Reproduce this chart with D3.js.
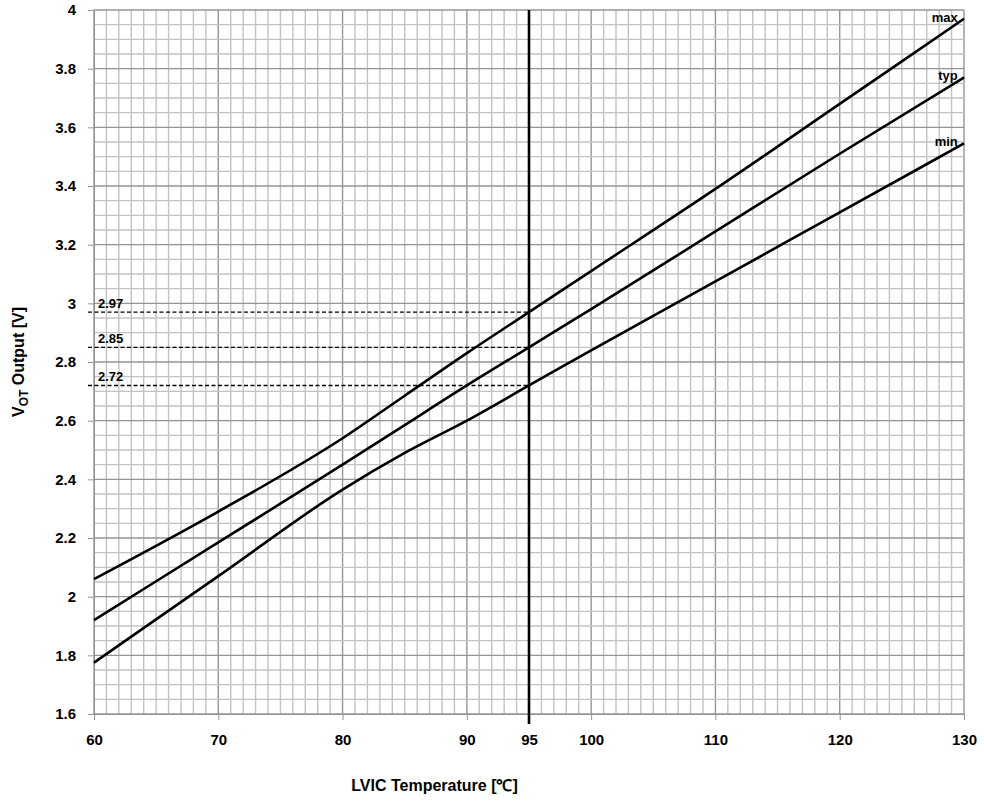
<!DOCTYPE html>
<html>
<head>
<meta charset="utf-8">
<script src="https://cdn.jsdelivr.net/npm/d3@7"></script>
<style>
  body { margin: 0; background: #fff; }
  text { font-family: "Liberation Sans", Arial, sans-serif; font-weight: bold; fill: #000; }
</style>
</head>
<body>
<div id="graph-area"></div>
<script>
// temperatures
const TEMPS = [60, 70, 80, 85, 90, 95, 100, 110, 120, 130]
const MAX_V = [2.06, 2.29, 2.54, 2.685, 2.83, 2.97, 3.11, 3.39, 3.68, 3.97]
const TYP_V = [1.92, 2.185, 2.45, 2.585, 2.72, 2.85, 2.98, 3.245, 3.51, 3.77]
const MIN_V = [1.775, 2.07, 2.365, 2.49, 2.60, 2.72, 2.84, 3.075, 3.31, 3.545]
const X_TICKS = [60, 70, 80, 90, 95, 100, 110, 120, 130]
const Y_TICKS = [1.6, 1.8, 2, 2.2, 2.4, 2.6, 2.8, 3, 3.2, 3.4, 3.6, 3.8, 4]
const MARKERS = [2.97, 2.85, 2.72]
const MARK_T = 95

const series = [
  { name: 'max', values: MAX_V },
  { name: 'typ', values: TYP_V },
  { name: 'min', values: MIN_V }
]

// set the dimensions and margins of the graph
var margin = { top: 10, right: 20, bottom: 87, left: 94 }
var width = 984 - margin.left - margin.right
var height = 801 - margin.top - margin.bottom

var svg = d3.select('#graph-area')
  .append('svg')
  .attr('width', 984)
  .attr('height', 801)

var container = svg.append('g')
  .attr('transform', 'translate(' + margin.left + ',' + margin.top + ')')

var xScale = d3.scaleLinear().domain([60, 130]).range([0, width])
var yScale = d3.scaleLinear().domain([1.6, 4]).range([height, 0])

// grid: every 1 degree and every 0.05 V, darker on major steps
var grid = container.append('g')
grid.selectAll('.vgrid')
  .data(d3.range(60, 131, 1))
  .enter().append('line')
  .attr('x1', d => xScale(d)).attr('x2', d => xScale(d))
  .attr('y1', 0).attr('y2', height)
  .attr('stroke', d => d % 10 === 0 ? '#959595' : '#c2c2c2')
  .attr('stroke-width', 1.4)
grid.selectAll('.hgrid')
  .data(d3.range(0, 49, 1).map(i => 1.6 + i * 0.05))
  .enter().append('line')
  .attr('x1', 0).attr('x2', width)
  .attr('y1', d => yScale(d)).attr('y2', d => yScale(d))
  .attr('stroke', (d, i) => i % 4 === 0 ? '#959595' : '#c2c2c2')
  .attr('stroke-width', 1.4)

// y axis
var yAxis = container.append('g')
  .call(d3.axisLeft(yScale).tickValues(Y_TICKS).tickSize(6).tickPadding(12).tickFormat(d3.format('')))
yAxis.attr('font-family', null).attr('font-size', null)
yAxis.select('.domain').attr('stroke', '#959595')
yAxis.selectAll('.tick line').attr('stroke', '#959595')
yAxis.selectAll('text').style('font-size', '15px')

// x axis
var xAxis = container.append('g')
  .attr('transform', 'translate(0,' + height + ')')
  .call(d3.axisBottom(xScale).tickValues(X_TICKS).tickSize(6).tickPadding(14))
xAxis.attr('font-family', null).attr('font-size', null)
xAxis.select('.domain').attr('stroke', '#959595')
xAxis.selectAll('.tick line').attr('stroke', '#959595')
xAxis.selectAll('text').style('font-size', '15px')

// dashed markers
MARKERS.forEach(v => {
  container.append('line')
    .attr('x1', -6).attr('x2', xScale(MARK_T))
    .attr('y1', yScale(v)).attr('y2', yScale(v))
    .attr('stroke', '#000').attr('stroke-width', 1.4)
    .attr('stroke-dasharray', '4,2.5')
  container.append('text')
    .attr('x', 4).attr('y', yScale(v) - 4)
    .style('font-size', '13px')
    .text(v.toFixed(2))
})

// vertical marker at 95
container.append('line')
  .attr('x1', xScale(MARK_T)).attr('x2', xScale(MARK_T))
  .attr('y1', 0).attr('y2', height + 10)
  .attr('stroke', '#000').attr('stroke-width', 2.6)

// curves
var line = d3.line()
  .x((d, i) => xScale(TEMPS[i]))
  .y(d => yScale(d))
  .curve(d3.curveMonotoneX)

container.selectAll('.curve')
  .data(series)
  .enter().append('path')
  .attr('d', d => line(d.values))
  .attr('fill', 'none')
  .attr('stroke', '#000')
  .attr('stroke-width', 2.6)

container.selectAll('.clabel')
  .data(series)
  .enter().append('text')
  .attr('x', xScale(129.5))
  .attr('y', d => yScale(d.values[d.values.length - 1]) + 3)
  .attr('text-anchor', 'end')
  .style('font-size', '13px')
  .text(d => d.name)

// axis titles
svg.append('text')
  .attr('x', margin.left + xScale(87.4))
  .attr('y', 791)
  .attr('text-anchor', 'middle')
  .style('font-size', '16px')
  .text('LVIC Temperature [℃]')

var yt = svg.append('text')
  .attr('transform', 'translate(24,362) rotate(-90)')
  .attr('text-anchor', 'middle')
  .style('font-size', '16px')
yt.append('tspan').text('V')
yt.append('tspan').attr('dy', 4).style('font-size', '12px').text('OT')
yt.append('tspan').attr('dy', -4).text(' Output [V]')
</script>
</body>
</html>
